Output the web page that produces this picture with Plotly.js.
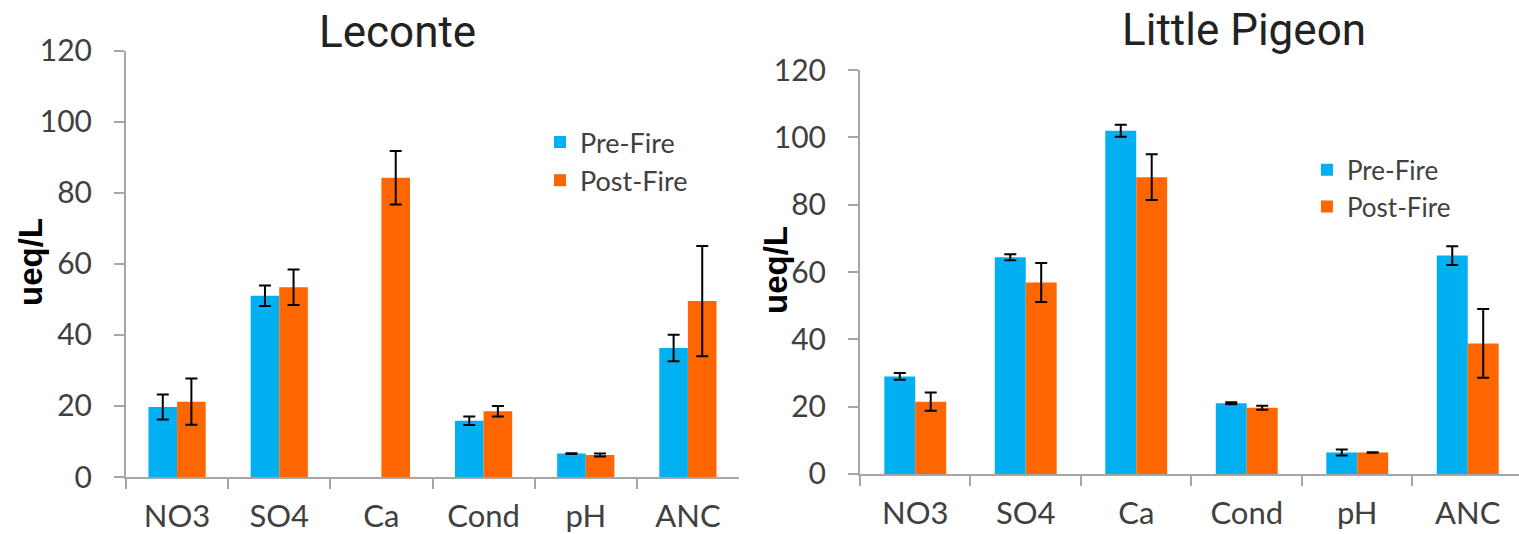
<!DOCTYPE html>
<html>
<head>
<meta charset="utf-8">
<script src="https://cdn.plot.ly/plotly-3.0.1.min.js"></script>
<style>html,body{margin:0;padding:0;background:#fff;}#chart{width:1519px;height:534px;}</style>
</head>
<body>
<div id="chart"></div>
<script>
var categories = ["NO3", "SO4", "Ca", "Cond", "pH", "ANC"];

var lecontePre = [19.7, 51.0, null, 15.8, 6.6, 36.3];
var lecontePreErr = [3.5, 2.9, null, 1.2, 0.1, 3.7];
var lecontePost = [21.2, 53.4, 84.2, 18.5, 6.2, 49.5];
var lecontePostErr = [6.5, 5.0, 7.5, 1.5, 0.4, 15.5];

var pigeonPre = [29.0, 64.4, 102.0, 21.0, 6.4, 64.9];
var pigeonPreErr = [1.0, 0.9, 1.8, 0.3, 0.9, 2.8];
var pigeonPost = [21.5, 56.9, 88.2, 19.7, 6.4, 38.8];
var pigeonPostErr = [2.7, 5.8, 6.8, 0.6, 0.1, 10.2];

var seriesNames = ["Pre-Fire", "Post-Fire"];
var titles = ["Leconte", "Little Pigeon"];
var yTitle = "ueq/L";

var blue = "#00B0F0", orange = "#FF6600";
var xTickFont = {family: "Lato, 'Open Sans', sans-serif", size: 31, color: "#404040"};
var yTickFont = {family: "Lato, 'Open Sans', sans-serif", size: 30, color: "#404040"};
var yTitleFont = {family: "'Liberation Sans', Arial, sans-serif", size: 33, color: "#000", weight: "bold"};

function err(arr) {
  return {type: "data", array: arr, visible: true, color: "#000", thickness: 2, width: 6};
}

var traces = [
  {type: "bar", x: categories, y: lecontePre, name: seriesNames[0], marker: {color: blue},
   error_y: err(lecontePreErr), xaxis: "x", yaxis: "y", legend: "legend"},
  {type: "bar", x: categories, y: lecontePost, name: seriesNames[1], marker: {color: orange},
   error_y: err(lecontePostErr), xaxis: "x", yaxis: "y", legend: "legend"},
  {type: "bar", x: categories, y: pigeonPre, name: seriesNames[0], marker: {color: blue},
   error_y: err(pigeonPreErr), xaxis: "x2", yaxis: "y2", legend: "legend2"},
  {type: "bar", x: categories, y: pigeonPost, name: seriesNames[1], marker: {color: orange},
   error_y: err(pigeonPostErr), xaxis: "x2", yaxis: "y2", legend: "legend2"}
];

function xax(domain, range, anchor) {
  return {domain: domain, range: range, anchor: anchor, type: "category",
    showline: true, linecolor: "#A6A6A6", linewidth: 2,
    ticks: "outside", ticklen: 10, tickwidth: 2, tickcolor: "#A6A6A6",
    tickson: "boundaries", showgrid: false, zeroline: false,
    tickfont: xTickFont, ticklabelstandoff: 11, fixedrange: true};
}
function yax(domain, anchor) {
  return {domain: domain, range: [0, 120], anchor: anchor, dtick: 20,
    showline: true, linecolor: "#A6A6A6", linewidth: 2,
    ticks: "outside", ticklen: 10, tickwidth: 2, tickcolor: "#A6A6A6",
    showgrid: false, zeroline: false, tickfont: yTickFont, ticklabelstandoff: 16,
    fixedrange: true};
}

var layout = {
  width: 1519, height: 534,
  margin: {l: 0, r: 0, t: 0, b: 0},
  paper_bgcolor: "#fff", plot_bgcolor: "#fff",
  barmode: "group", bargap: 0.44, bargroupgap: 0,
  xaxis: xax([0.08295, 0.48651], [-0.5, 5.5], "y"),
  yaxis: yax([0.10674, 0.90543], "x"),
  xaxis2: xax([0.56616, 1.0], [-0.5, 5.464], "y2"),
  yaxis2: yax([0.11236, 0.86854], "x2"),
  legend: {x: 0.3555, y: 0.779, xanchor: "left", yanchor: "top", bgcolor: "rgba(0,0,0,0)",
    font: {family: "Lato, sans-serif", size: 27, color: "#404040"}, traceorder: "normal"},
  legend2: {x: 0.8604, y: 0.726, xanchor: "left", yanchor: "top", bgcolor: "rgba(0,0,0,0)",
    font: {family: "Lato, sans-serif", size: 26, color: "#404040"}, traceorder: "normal"},
  annotations: [
    {text: titles[0], xref: "paper", yref: "paper", x: 398 / 1519, y: 1 - 47 / 534, xanchor: "center", yanchor: "bottom",
     yshift: -13, showarrow: false, font: {family: "Roboto, sans-serif", size: 44, color: "#222"}},
    {text: titles[1], xref: "paper", yref: "paper", x: 1243.5 / 1519, y: 1 - 46 / 534, xanchor: "center", yanchor: "bottom",
     yshift: -12, showarrow: false, font: {family: "Roboto, sans-serif", size: 44, color: "#222"}},
    {text: yTitle, xref: "paper", yref: "paper", x: 30 / 1519, y: 1 - 262 / 534, xanchor: "center", yanchor: "middle",
     textangle: -90, showarrow: false, font: yTitleFont},
    {text: yTitle, xref: "paper", yref: "paper", x: 775 / 1519, y: 1 - 270 / 534, xanchor: "center", yanchor: "middle",
     textangle: -90, showarrow: false, font: yTitleFont}
  ],
  showlegend: true
};

Plotly.newPlot("chart", traces, layout, {displayModeBar: false, staticPlot: true});
</script>
</body>
</html>
